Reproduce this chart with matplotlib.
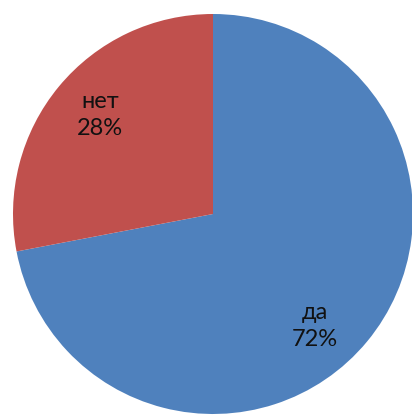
import matplotlib
matplotlib.use("Agg")
import matplotlib.pyplot as plt

labels = ["да", "нет"]
values = [72, 28]
colors = ["#4F81BD", "#C0504D"]

W, H = 412, 416
fig = plt.figure(figsize=(W / 100, H / 100), dpi=100)
cx, cy, r = 213, 416 - 214, 200
ax = fig.add_axes([(cx - r) / W, (cy - r) / H, 2 * r / W, 2 * r / H])

def fmt_factory():
    it = iter(labels)
    def fmt(p):
        return f"{next(it)}\n{p:.0f}%"
    return fmt

wedges, texts, autotexts = ax.pie(
    values, colors=colors, startangle=90, counterclock=False,
    autopct=fmt_factory(), pctdistance=0.755, radius=1,
    wedgeprops=dict(linewidth=0),
    textprops=dict(fontsize=17, family="Lato", color="#111111", linespacing=1.35),
)
# Excel-like label placement
autotexts[0].set_position((0.51, -0.56))
autotexts[1].set_position((-0.565, 0.495))
ax.set_xlim(-1, 1)
ax.set_ylim(-1, 1)
ax.set_aspect("equal")
ax.axis("off")
fig.savefig("out.png", dpi=100)
